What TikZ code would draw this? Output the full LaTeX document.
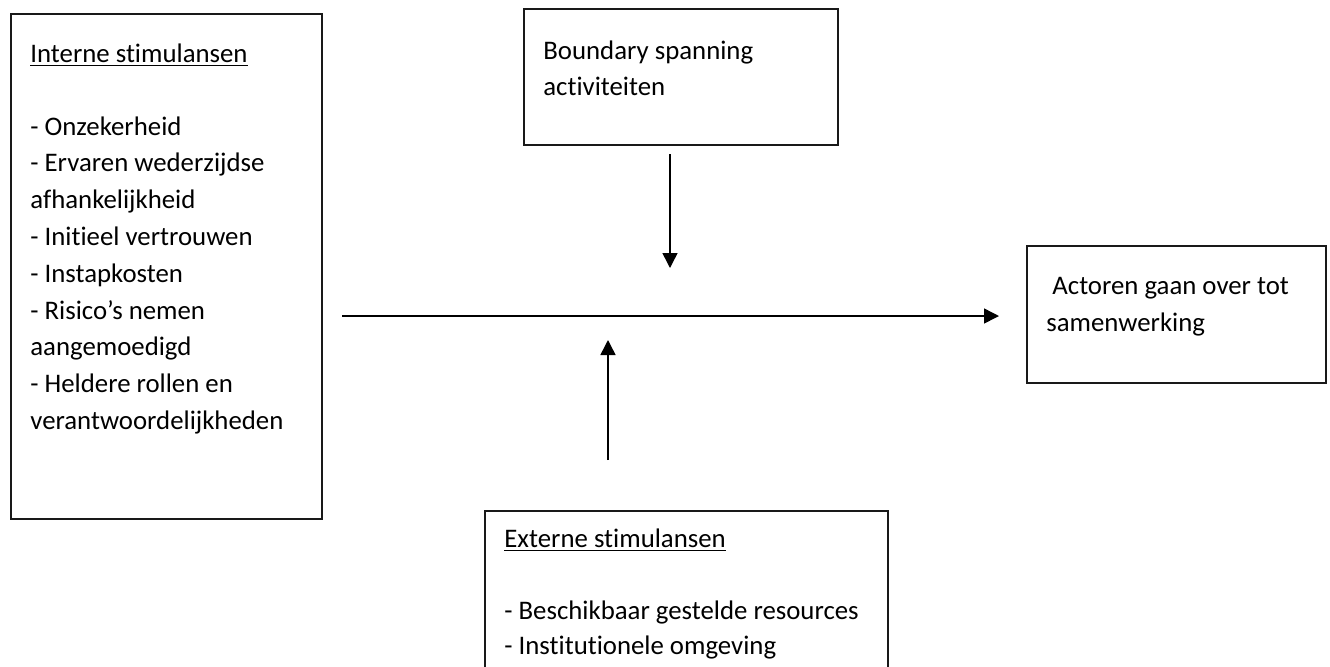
\documentclass[tikz,border=0pt]{standalone}
\usepackage{fontspec}
\setmainfont{Carlito}[Ligatures=NoCommon]
\usetikzlibrary{arrows.meta}
\begin{document}
\begin{tikzpicture}[x=0.5pt,y=-0.5pt,
  box/.style={draw=black!90, line width=1pt, inner sep=0pt, anchor=north west},
  txt/.style={anchor=base west, inner sep=0pt, font=\fontsize{13.4pt}{16pt}\selectfont},
  arr/.style={line width=0.75pt, -{Triangle[length=7.5pt,width=7.5pt]}}]
\useasboundingbox (0,0) rectangle (1330,666);
\clip (0,0) rectangle (1330,666);
% boxes
\node[box, minimum width=155.5pt, minimum height=252.5pt] (intern) at (10,13) {};
\node[box, minimum width=157pt, minimum height=68pt] (boundary) at (523,8) {};
\node[box, minimum width=149.5pt, minimum height=68.5pt] (actoren) at (1026,245) {};
\node[box, minimum width=201.5pt, minimum height=100pt] (extern) at (484,510) {};
% texts: interne stimulansen
\node[txt] (it) at (30,62) {\underline{Interne stimulansen}};
\foreach \t [count=\i] in {- Onzekerheid, - Ervaren wederzijdse, afhankelijkheid, - Initieel vertrouwen, - Instapkosten, - Risico’s nemen, aangemoedigd, - Heldere rollen en, verantwoordelijkheden}
  \node[txt] (il\i) at (30,{135+(\i-1)*36.8}) {\t};
% boundary spanning
\node[txt] (b1) at (543,59) {Boundary spanning};
\node[txt] (b2) at (543,95) {activiteiten};
% actoren
\node[txt] (a1) at (1052,294) {Actoren gaan over tot};
\node[txt] (a2) at (1046,331) {samenwerking};
% externe stimulansen
\node[txt] (et) at (504,547) {\underline{Externe stimulansen}};
\node[txt] (e1) at (504,619) {- Beschikbaar gestelde resources};
\node[txt] (e2) at (504,654) {- Institutionele omgeving};
% connectors
\coordinate (hs) at (342,316);
\coordinate (he) at (999,316);
\coordinate (dtip) at (670,268);
\coordinate (utip) at (608,340);
\draw[arr] (hs) -- (he);
\draw[arr] ([yshift=-4pt]boundary.south -| dtip) -- (dtip);
\draw[arr] ([yshift=25pt]extern.north -| utip) -- (utip);
\end{tikzpicture}
\end{document}
